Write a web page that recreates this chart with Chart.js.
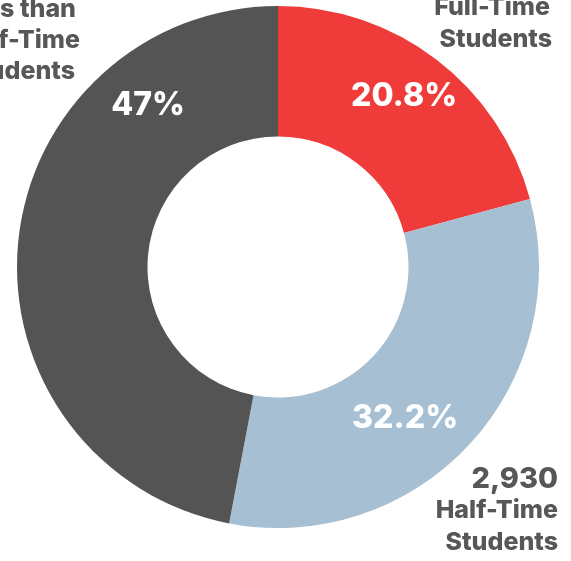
<!DOCTYPE html>
<html>
<head>
<meta charset="utf-8">
<script src="https://cdn.jsdelivr.net/npm/chart.js@4/dist/chart.umd.min.js"></script>
<style>
  html, body { margin: 0; padding: 0; background: #ffffff; }
  #wrap { width: 571px; height: 561px; position: relative; }
</style>
</head>
<body>
<div id="wrap"><canvas id="enrollChart"></canvas></div>
<script>
// data
const categories = ['Full-Time Students', 'Half-Time Students', 'Less than Half-Time Students'];
const shares = [20.8, 32.2, 47];
const shareLabels = ['20.8%', '32.2%', '47%'];
const headcounts = ['', '2,930', ''];
const sliceColors = ['#ef3c3b', '#a6bfd2', '#545454'];

// where the % text sits, in units of outer radius from the centre
const pctSpots = [[0.483, -0.655], [0.487, 0.581], [-0.498, -0.621]];

const FONT = "Inter, 'Liberation Sans', sans-serif";
const TEXT_GREY = '#575757';

// outside captions (split lines), right edge x / baseline y per line
const captions = [
    { lines: ['Full-Time', 'Students'], x: [550, 552], y: [15, 47] },
    { lines: ['Half-Time', 'Students'], x: [558, 558], y: [518, 550], count: 1, countX: 558, countY: 488 },
    { lines: ['Less than', 'Half-Time', 'Students'], x: [76, 80, 75], y: [17, 48, 79] }
];

const labelPlugin = {
    id: 'sliceLabels',
    afterDatasetsDraw(chart) {
        const ctx = chart.ctx;
        const arcs = chart.getDatasetMeta(0).data;
        ctx.save();
        ctx.fillStyle = '#ffffff';
        ctx.font = '800 32px ' + FONT;
        ctx.textAlign = 'center';
        ctx.textBaseline = 'middle';
        arcs.forEach((arc, i) => {
            const r = arc.outerRadius;
            ctx.fillText(shareLabels[i], arc.x + pctSpots[i][0] * r, arc.y + pctSpots[i][1] * r);
        });

        ctx.fillStyle = TEXT_GREY;
        ctx.textBaseline = 'alphabetic';
        ctx.textAlign = 'right';
        captions.forEach((c) => {
            if (c.count !== undefined && headcounts[c.count]) {
                ctx.font = '800 29px ' + FONT;
                ctx.fillText(headcounts[c.count], c.countX, c.countY);
            }
            ctx.font = '800 25px ' + FONT;
            c.lines.forEach((ln, k) => ctx.fillText(ln, c.x[k], c.y[k]));
        });
        ctx.restore();
    }
};

new Chart(document.getElementById('enrollChart'), {
    type: 'doughnut',
    data: {
        labels: categories,
        datasets: [{
            data: shares,
            backgroundColor: sliceColors,
            borderWidth: 0,
            hoverOffset: 0
        }]
    },
    options: {
        responsive: true,
        maintainAspectRatio: false,
        animation: false,
        events: [],
        cutout: '50%',
        layout: { padding: { left: 17, right: 32, top: 6, bottom: 33 } },
        plugins: {
            legend: { display: false },
            tooltip: { enabled: false }
        }
    },
    plugins: [labelPlugin]
});
</script>
</body>
</html>
